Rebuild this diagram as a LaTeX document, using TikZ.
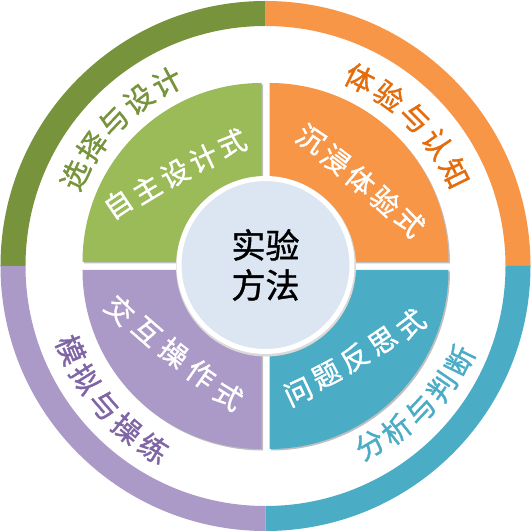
\documentclass[tikz,border=0pt]{standalone}
\usepackage{fontspec}
\setmainfont{Noto Sans CJK SC}[FakeBold=1.2]
\usetikzlibrary{shadows}

\definecolor{ringgreen}{HTML}{77933C}
\definecolor{fangreen}{HTML}{9BBB59}
\definecolor{fanorange}{HTML}{F79646}
\definecolor{textorange}{HTML}{E46C0A}
\definecolor{fanpurple}{HTML}{AB9AC7}
\definecolor{textpurple}{HTML}{7F64A6}
\definecolor{fanblue}{HTML}{4BACC6}
\definecolor{hubblue}{HTML}{DCE6F2}

\begin{document}
\begin{tikzpicture}[x=1pt, y=1pt,
		ringchar/.style={font=\fontsize{29}{29}\selectfont, inner sep=0pt},
		fanchar/.style={font=\fontsize{28}{28}\selectfont, inner sep=0pt, text=white},
		fanshadow/.style={drop shadow={shadow xshift=1.5pt, shadow yshift=-1.5pt, opacity=0.25, fill=black}}]
	\fill[white] (-265.5,-266) rectangle (265.5,266);
	\useasboundingbox (-265.5,-266) rectangle (265.5,266);

	% outer ring
	\fill[ringgreen] (90:265) arc (90:180:265) -- (180:240) arc (180:90:240) -- cycle;
	\fill[fanorange] (0:265) arc (0:90:265) -- (90:240) arc (90:0:240) -- cycle;
	\fill[fanpurple] (180:265) arc (180:270:265) -- (270:240) arc (270:180:240) -- cycle;
	\fill[fanblue] (270:265) arc (270:360:265) -- (0:240) arc (360:270:240) -- cycle;

	% quarter fans
	\fill[fangreen, fanshadow] (-4,4) -- ++(180:179) arc (180:90:179) -- cycle;
	\fill[fanorange, fanshadow] (4,4) -- ++(90:179) arc (90:0:179) -- cycle;
	\fill[fanpurple, fanshadow] (-4,-4) -- ++(270:179) arc (270:180:179) -- cycle;
	\fill[fanblue, fanshadow] (4,-4) -- ++(0:179) arc (0:-90:179) -- cycle;

	% centre
	\fill[black!15] (0.5,-0.5) circle (90);
	\node[circle, fill=hubblue, draw=white, line width=5pt, minimum size=173pt, inner sep=0pt,
		align=center, font=\fontsize{34}{40}\selectfont] (hub) at (0,1) {实验\\方法};

	% ring texts
	\foreach \c [count=\i from 0] in {选,择,与,设,计}{
		\pgfmathsetmacro\ang{154.5-\i*9.075}
		\pgfmathsetmacro\rad{211-\i*0.5}
		\node[ringchar, text=ringgreen, rotate=\ang-90] (choose\i) at (\ang:\rad) {\c};
	}
	\foreach \c [count=\i from 0] in {体,验,与,认,知}{
		\pgfmathsetmacro\ang{63.3-\i*9.3}
		\pgfmathsetmacro\rad{210+\i*0.25}
		\node[ringchar, text=textorange, rotate=\ang-90] (feel\i) at (\ang:\rad) {\c};
	}
	\foreach \c [count=\i from 0] in {模,拟,与,操,练}{
		\pgfmathsetmacro\ang{203.3+\i*8.775}
		\pgfmathsetmacro\rad{212+\i*0.5}
		\node[ringchar, text=textpurple, rotate=\ang+90] (model\i) at (\ang:\rad) {\c};
	}
	\foreach \c [count=\i from 0] in {分,析,与,判,断}{
		\pgfmathsetmacro\ang{300.3+\i*8.425}
		\pgfmathsetmacro\rad{207+\i*2.25}
		\node[ringchar, text=fanblue, rotate=\ang+90] (judge\i) at (\ang:\rad) {\c};
	}

	% fan texts
	\foreach \c [count=\i from 0] in {自,主,设,计,式}{
		\pgfmathsetmacro\px{-147.5+\i*28.5}
		\pgfmathsetmacro\py{62+\i*15.25}
		\node[fanchar, rotate=34-\i*3] (design\i) at (\px,\py) {\c};
	}
	\foreach \c [count=\i from 0] in {沉,浸,体,验,式}{
		\pgfmathsetmacro\px{45.5+\i*24.75}
		\pgfmathsetmacro\py{127-\i*20.75}
		\node[fanchar, rotate=-34-\i*3] (immerse\i) at (\px,\py) {\c};
	}
	\foreach \c [count=\i from 0] in {交,互,操,作,式}{
		\pgfmathsetmacro\px{-145.5+\i*27.075}
		\pgfmathsetmacro\py{-44-\i*21.425}
		\node[fanchar, rotate=-44+\i*3] (operate\i) at (\px,\py) {\c};
	}
	\foreach \c [count=\i from 0] in {问,题,反,思,式}{
		\pgfmathsetmacro\px{32.8+\i*28.1}
		\pgfmathsetmacro\py{-125.7+\i*16.925}
		\node[fanchar, rotate=25+\i*3] (reflect\i) at (\px,\py) {\c};
	}
\end{tikzpicture}
\end{document}
